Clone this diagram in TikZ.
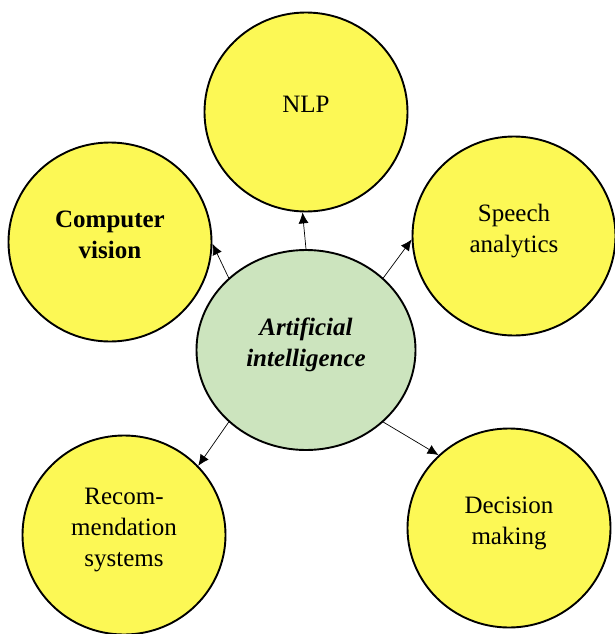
\documentclass[tikz,border=0pt]{standalone}
\usepackage{fontspec}
\setmainfont{Liberation Serif}
\usetikzlibrary{arrows.meta,shapes.geometric}
\definecolor{aiyellow}{RGB}{252,248,85}
\definecolor{aigreen}{RGB}{204,228,190}
\begin{document}
\begin{tikzpicture}[
        x=1pt, y=1pt,
        yellown/.style={fill=aiyellow},
        greenn/.style={fill=aigreen, minimum width=219pt, minimum height=200pt},
        every node/.style={draw, ellipse, minimum width=203pt, minimum height=199pt, inner sep=0pt,
            align=center, line width=1.9pt, font=\fontsize{25}{31}\selectfont,
            execute at end node={\rule[-15pt]{0pt}{15pt}}},
        link/.style={draw, line width=0.7pt, -{Latex[length=11pt,width=10pt]}},
    ]
    \useasboundingbox (0,0) rectangle (614,-634);
    \node[greenn](ai) at (306,-350){\textbf{\textit{Artificial}}\\\textbf{\textit{intelligence}}};
    \node[yellown](nlp) at (306,-112){NLP};
    \node[yellown](cv) at (110,-242){\textbf{Computer}\\\textbf{vision}};
    \node[yellown](sa) at (514,-236){Speech\\analytics};
    \node[yellown](rs) at (124,-535){Recom-\\mendation\\systems};
    \node[yellown](dm) at (509,-528){Decision\\making};
    \draw[link] (ai.90) -- (nlp.268);
    \draw[link] (ai.137) -- (cv.-1);
    \draw[link] (ai.43) -- (sa.182);
    \draw[link] (ai.223) -- (rs.43);
    \draw[link] (ai.317) -- (dm.134);
\end{tikzpicture}
\end{document}
